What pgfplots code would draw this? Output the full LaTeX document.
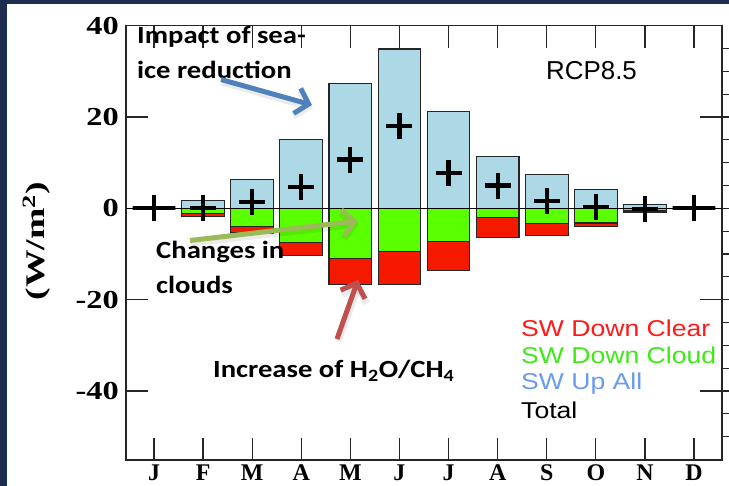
\documentclass[border=0pt]{standalone}
\usepackage{pgfplots}
\pgfplotsset{compat=1.18}
\usepackage{pgfplotstable}
\usepackage{graphicx}
\usepackage{fontspec}
\usetikzlibrary{arrows.meta}
\setmainfont{Liberation Serif}
\newfontfamily\calfont{Carlito}
\newfontfamily\helv{Liberation Sans}

\definecolor{slidebg}{RGB}{28,45,80}
\definecolor{upall}{RGB}{173,216,230}
\definecolor{cloud}{RGB}{90,255,0}
\definecolor{clear}{RGB}{245,25,0}
\definecolor{legred}{RGB}{255,25,25}
\definecolor{leggreen}{RGB}{60,235,20}
\definecolor{legblue}{RGB}{105,155,240}
\definecolor{arrblue}{RGB}{79,129,189}
\definecolor{arrgreen}{RGB}{155,187,89}
\definecolor{arrred}{RGB}{192,80,77}

% horizontally widened lettering
\newcommand{\sx}[1]{\scalebox{1.25}[1]{#1}}
\newcommand{\sy}[1]{\scalebox{1.16}[1]{#1}}

% monthly shortwave components (W/m^2)
\pgfplotstableread{
month upall cloud clear
2  1.8  -1.2 -0.5
3  6.3  -3.9 -1.5
4  15.1 -7.4 -2.9
5  27.4 -10.9 -5.8
6  34.9 -9.4 -7.3
7  21.3 -7.2 -6.4
8  11.4 -2.0 -4.3
9  7.4  -3.3 -2.7
10 4.2  -3.2 -0.8
11 0.9  -0.5 -0.3
}\swdata

\pgfplotstableread{
month total
1  0
2  0
3  1.4
4  4.6
5  10.7
6  18.1
7  7.7
8  5.0
9  1.6
10 0.3
11 -0.1
12 0
}\totdata

\begin{document}
\begin{tikzpicture}
\path[use as bounding box] (0,0) rectangle (729bp,486bp);
\fill[slidebg] (0,0) rectangle (729bp,486bp);
\fill[white] (7bp,0) rectangle (729bp,482bp);

% right-hand tick marks
\begin{axis}[
  at={(126bp,26bp)}, anchor=south west,
  width=596bp, height=434.3bp, scale only axis,
  xmin=0.43, xmax=12.57, ymin=-55.1, ymax=40,
  xtick=\empty,
  ytick={-40,-20,0,20,40}, yticklabels={},
  ytick pos=right,
  tick align=inside, major tick length=22bp,
  extra y ticks={-50,-45,...,35}, extra y tick labels={},
  extra tick style={tick align=outside, major tick length=10bp},
  axis line style={line width=1.2bp, black!85},
  tick style={line width=1.2bp, black!85},
]
\end{axis}

\begin{axis}[
  at={(126bp,26bp)}, anchor=south west,
  width=596bp, height=434.3bp, scale only axis,
  xmin=0.43, xmax=12.57, ymin=-55.1, ymax=40,
  xtick={1,...,12},
  xticklabels={J,F,M,A,M,J,J,A,S,O,N,D},
  xticklabel pos=lower,
  ytick={-40,-20,0,20,40},
  yticklabels={\sx{-40},\sx{-20},\sx{0},\sx{20},\sx{40}},
  ytick pos=left,
  tick align=inside, major tick length=22bp,
  axis line style={line width=1.2bp, black!85},
  tick style={line width=1.2bp, black!85},
  xticklabel style={font=\fontsize{24}{24}\selectfont\bfseries, inner sep=0pt, anchor=base, yshift=-20bp},
  yticklabel style={font=\fontsize{26}{26}\selectfont\bfseries, inner sep=0pt, anchor=east, xshift=-7bp},
]
\addplot[ybar, bar width=0.87, fill=upall, draw=black!85, line width=1.1bp]
  table[x=month, y=upall] {\swdata};
\addplot[ybar, bar width=0.87, fill=clear, draw=black!85, line width=1.1bp]
  table[x=month, y expr=\thisrow{cloud}+\thisrow{clear}] {\swdata};
\addplot[ybar, bar width=0.87, fill=cloud, draw=black!85, line width=1.1bp]
  table[x=month, y=cloud] {\swdata};
\addplot[ybar, bar width=0.87, fill=none, draw=black, line width=4bp]
  coordinates {(1,0) (12,0)};
\addplot[black, line width=1.2bp] coordinates {(0.43,0) (12.57,0)};
\addplot[only marks, mark=+, mark size=13bp, mark options={line width=4.2bp, black}]
  table[x=month, y=total] {\totdata};
\end{axis}

\begin{scope}[shift={(0bp,486bp)}, x=1bp, y=-1bp]
  % axis title
  \node[rotate=90, inner sep=0pt, font=\fontsize{27}{27}\selectfont\bfseries] at (37,241)
    {\scalebox{1.4}[1]{(W/m\textsuperscript{2})}};
  % scenario label
  \node[anchor=base west, inner sep=0pt, font=\helv\fontsize{26}{26}\selectfont] at (546,80) {RCP8.5};
  % legend
  \begin{scope}[every node/.style={anchor=base west, inner sep=0pt, font=\helv\fontsize{23}{23}\selectfont}]
    \node[text=legred]   at (521,336.3) {\sy{SW Down Clear}};
    \node[text=leggreen] at (521,363.7) {\sy{SW Down Cloud}};
    \node[text=legblue]  at (521,389.7) {\sy{SW Up All}};
    \node[text=black]    at (521,419)   {\sy{Total}};
  \end{scope}
  % callouts
  \begin{scope}[every node/.style={anchor=base west, inner sep=0pt, font=\calfont\fontsize{24.8}{24.8}\selectfont\bfseries}]
    \node at (137,43.3) {\sy{Impact of sea-}};
    \node at (137,79)   {\sy{ice reduction}};
    \node at (156,259)  {\sy{Changes in}};
    \node at (156,294)  {\sy{clouds}};
    \node at (213,378)  {\sy{Increase of H\textsubscript{2}O/CH\textsubscript{4}}};
  \end{scope}
  \begin{scope}[line width=5bp, arrows={-Straight Barb[length=12bp, width=26bp]}]
    \draw[black, opacity=0.08, line width=7bp] (222,82) -- (313,108);
    \draw[black, opacity=0.08, line width=7bp] (191,243) -- (359,224);
    \draw[black, opacity=0.08, line width=7bp] (338,341) -- (360,283);
    \draw[arrblue]  (221,79.5) -- (312,105);
    \draw[arrgreen] (190,240.5) -- (358,221);
    \draw[arrred]   (337,339) -- (358,280);
  \end{scope}
\end{scope}
\end{tikzpicture}
\end{document}
